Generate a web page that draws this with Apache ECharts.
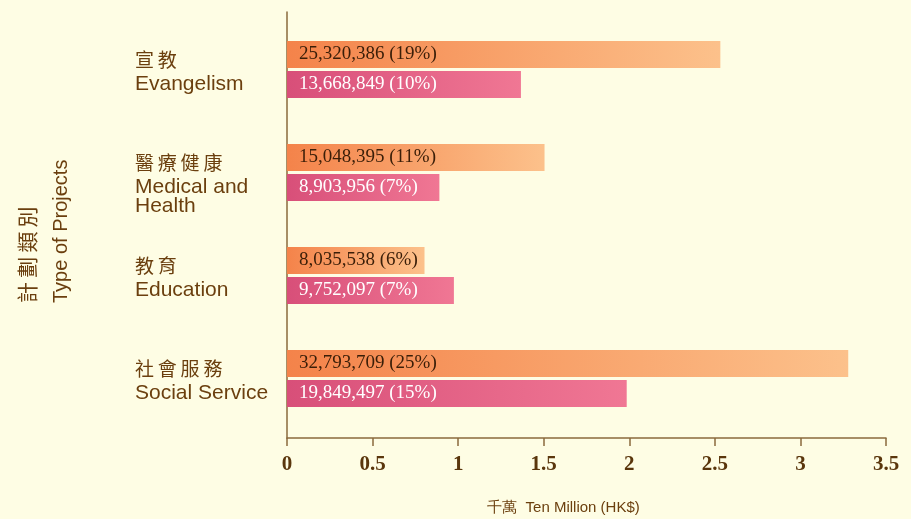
<!DOCTYPE html>
<html>
<head>
<meta charset="utf-8">
<script src="https://cdn.jsdelivr.net/npm/echarts@6/dist/echarts.min.js"></script>
<style>
html,body{margin:0;padding:0;background:#fefde4;}
#chart{width:911px;height:519px;}
</style>
</head>
<body>
<div id="chart"></div>
<script>
// ---- data ----
var categoriesZh = ['宣教', '醫療健康', '教育', '社會服務'];
var categoriesEn = ['Evangelism', 'Medical and\nHealth', 'Education', 'Social Service'];
var orangeAmounts = [25320386, 15048395, 8035538, 32793709];
var orangePercents = [19, 11, 6, 25];
var pinkAmounts = [13668849, 8903956, 9752097, 19849497];
var pinkPercents = [10, 7, 7, 15];
var xTicks = [0, 0.5, 1, 1.5, 2, 2.5, 3, 3.5];
var unit = 10000000; // 千萬

var categories = categoriesZh.map(function (z, i) { return z + '\n' + categoriesEn[i]; });

function fmt(n) { return String(n).replace(/\B(?=(\d{3})+(?!\d))/g, ','); }
function spaced(s) { return s.split('').join('\u2009'); }

var brown = '#6b3f0e';
var axisBrown = '#8a6a3c';

var chart = echarts.init(document.getElementById('chart'));
chart.setOption({
  backgroundColor: '#fefde4',
  animation: false,
  grid: [
    { left: 287, right: 25, top: 18, height: 412, outerBoundsMode: 'none', containLabel: false },
    { left: 287, right: 25, top: -6, height: 412, outerBoundsMode: 'none', containLabel: false },
    { left: 287, right: 25, top: 12, bottom: 81, outerBoundsMode: 'none', containLabel: false }
  ],
  xAxis: [
    {
      gridIndex: 0, type: 'value', min: 0, max: 3.5, interval: 0.5, offset: 8,
      axisLine: { show: true, lineStyle: { color: axisBrown, width: 1.5 } },
      axisTick: { show: true, length: 8, lineStyle: { color: axisBrown, width: 1.5 } },
      splitLine: { show: false },
      axisLabel: {
        margin: 16, color: '#5a360c', fontFamily: 'Liberation Serif', fontWeight: 'bold', fontSize: 21,
        formatter: function (v) { return xTicks.indexOf(v) >= 0 ? String(v) : ''; }
      },
      name: '千萬  Ten Million (HK$)', nameLocation: 'middle', nameGap: 62,
      nameTextStyle: { color: brown, fontFamily: 'Liberation Sans', fontSize: 15, padding: [0, 46, 0, 0] }
    },
    { gridIndex: 1, type: 'value', show: false },
    { gridIndex: 2, type: 'value', show: false }
  ],
  yAxis: [
    {
      gridIndex: 0, type: 'category', inverse: true, data: categories,
      axisLine: { show: false }, axisTick: { show: false }, axisLabel: { show: false }
    },
    {
      gridIndex: 1, type: 'category', inverse: true, data: categories,
      axisLine: { show: false }, axisTick: { show: false },
      axisLabel: {
        show: true, align: 'left', verticalAlign: 'top', margin: 152,
        color: brown, fontFamily: 'Liberation Sans', fontSize: 21, lineHeight: 19,
        formatter: function (v, i) {
          return '{zh|' + spaced(categoriesZh[i]) + '}\n' + categoriesEn[i];
        },
        rich: {
          zh: { fontFamily: 'Noto Sans CJK TC', fontSize: 19, lineHeight: 29, color: brown }
        }
      }
    },
    {
      gridIndex: 2, type: 'value', min: 0, max: 1,
      axisLine: { show: true, lineStyle: { color: axisBrown, width: 1.5 } },
      axisTick: { show: false }, axisLabel: { show: false }, splitLine: { show: false }
    }
  ],
  graphic: [{
    type: 'text', x: 10, y: 303, rotation: Math.PI / 2,
    style: {
      text: '{zh|' + spaced('計劃類別') + '}\nType of Projects', x: 0, y: 0,
      align: 'left', verticalAlign: 'top',
      fill: brown, font: '20px "Liberation Sans"', lineHeight: 34,
      rich: { zh: { font: '21px "Noto Sans CJK TC"', fill: brown, lineHeight: 34 } }
    }
  }],
  series: [
    {
      type: 'bar', xAxisIndex: 0, yAxisIndex: 0, barWidth: 27, barGap: '11%',
      data: orangeAmounts.map(function (v) { return v / unit; }),
      itemStyle: {
        color: new echarts.graphic.LinearGradient(0, 0, 1, 0, [
          { offset: 0, color: '#f4834a' }, { offset: 1, color: '#fcc18b' }
        ])
      },
      label: {
        show: true, position: 'insideLeft', distance: 12,
        color: '#3a1e08', fontFamily: 'Liberation Serif', fontSize: 19,
        formatter: function (p) { return fmt(orangeAmounts[p.dataIndex]) + ' (' + orangePercents[p.dataIndex] + '%)'; }
      }
    },
    {
      type: 'bar', xAxisIndex: 0, yAxisIndex: 0, barWidth: 27,
      data: pinkAmounts.map(function (v) { return v / unit; }),
      itemStyle: {
        color: new echarts.graphic.LinearGradient(0, 0, 1, 0, [
          { offset: 0, color: '#d84f79' }, { offset: 1, color: '#f07794' }
        ])
      },
      label: {
        show: true, position: 'insideLeft', distance: 12,
        color: '#ffffff', fontFamily: 'Liberation Serif', fontSize: 19,
        formatter: function (p) { return fmt(pinkAmounts[p.dataIndex]) + ' (' + pinkPercents[p.dataIndex] + '%)'; }
      }
    }
  ]
});
</script>
</body>
</html>
